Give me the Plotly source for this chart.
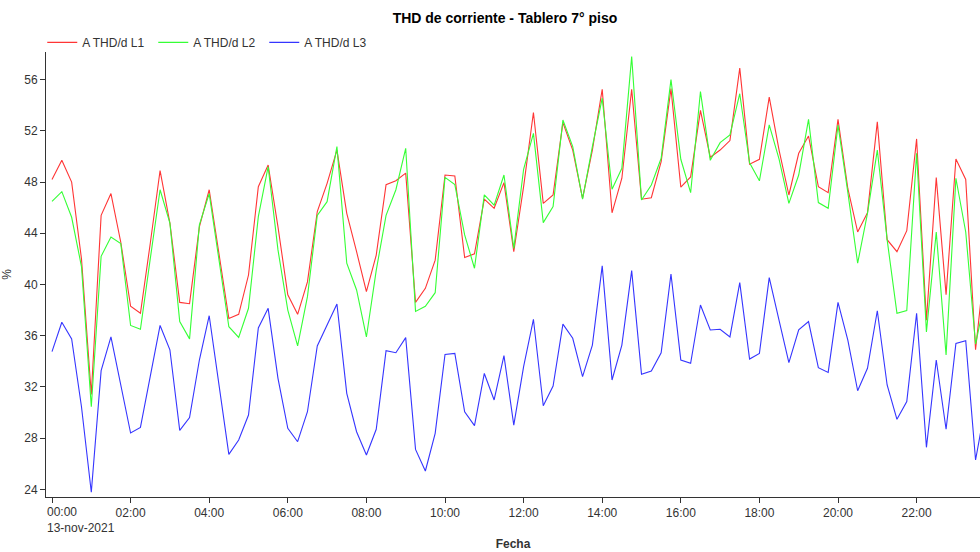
import plotly.graph_objects as go
import pandas as pd

times = pd.date_range("2021-11-13 00:00", periods=96, freq="15min")

l1 = [48.2, 49.7, 48.0, 42.0, 31.4, 45.4, 47.1, 43.3, 38.3, 37.75, 43.2, 48.9,
      44.8, 38.6, 38.5, 44.5, 47.4, 42.3, 37.35, 37.67, 40.74, 47.64, 49.33, 44.5,
      39.2, 37.67, 40.2, 45.7, 47.9, 50.5, 45.56, 42.56, 39.44, 42.3, 47.8, 48.1,
      48.7, 38.6, 39.7, 41.9, 48.55, 48.48, 42.1, 42.4, 46.66, 45.95, 47.96, 42.56,
      47.64, 53.43, 46.34, 46.99, 52.64, 50.5, 46.73, 50.5, 55.25, 45.6, 48.3, 55.25,
      46.66, 46.78, 49.6, 55.3, 47.6, 48.4, 53.6, 49.94, 50.5, 51.24, 56.9, 49.4,
      49.78, 54.63, 50.5, 46.99, 50.25, 51.6, 47.64, 47.17, 52.9, 47.5, 44.1, 45.6,
      52.7, 43.5, 42.56, 44.2, 51.37, 37.2, 48.35, 39.2, 49.8, 48.2, 34.9, 42.0]

l2 = [46.5, 47.25, 45.25, 41.4, 30.45, 42.2, 43.7, 43.2, 36.8, 36.5, 42.0, 47.4,
      44.8, 37.1, 35.75, 44.65, 47.1, 41.7, 36.7, 35.86, 38.14, 45.3, 49.2, 42.7,
      38.0, 35.2, 39.05, 45.4, 46.47, 50.77, 41.66, 39.57, 35.9, 41.1, 45.4, 47.4,
      50.64, 37.9, 38.3, 39.36, 48.37, 47.8, 43.87, 41.27, 47.0, 46.2, 48.55, 42.82,
      49.0, 51.8, 44.83, 46.08, 52.85, 50.77, 46.66, 50.77, 54.55, 47.44, 49.08, 57.8,
      46.6, 47.77, 49.86, 56.0, 49.78, 47.17, 55.07, 49.7, 51.08, 51.68, 54.9, 49.5,
      48.1, 52.46, 49.8, 46.34, 48.55, 52.9, 46.4, 45.95, 52.46, 47.2, 41.66, 45.56,
      50.5, 43.5, 37.75, 37.96, 50.25, 36.3, 44.1, 34.5, 48.3, 44.1, 35.35, 39.0]

l3 = [34.75, 37.05, 35.75, 30.45, 23.77, 33.27, 35.9, 32.15, 28.4, 28.84, 32.9, 36.8,
      34.9, 28.6, 29.6, 34.1, 37.56, 32.0, 26.73, 27.85, 29.8, 36.6, 38.14, 32.67,
      28.77, 27.72, 30.06, 35.2, 36.84, 38.48, 31.5, 28.5, 26.68, 28.69, 34.83, 34.67,
      35.85, 27.12, 25.43, 28.37, 34.54, 34.62, 30.06, 28.97, 33.05, 30.98, 34.44, 29.02,
      33.58, 37.28, 30.53, 32.07, 36.9, 35.8, 32.8, 35.27, 41.45, 32.54, 35.27, 41.08,
      32.98, 33.24, 34.67, 40.82, 34.1, 33.84, 38.4, 36.45, 36.5, 35.9, 40.15, 34.18,
      34.62, 40.54, 37.2, 33.9, 36.45, 37.1, 33.5, 33.13, 38.6, 35.66, 31.7, 33.45,
      37.95, 32.15, 29.47, 30.85, 37.75, 27.28, 34.1, 28.69, 35.4, 35.6, 26.29, 30.5]

series_names = ["A THD/d L1", "A THD/d L2", "A THD/d L3"]
series_colors = ["#ff3535", "#35ff35", "#3535ff"]

tick_hours = ["00:00", "02:00", "04:00", "06:00", "08:00", "10:00",
              "12:00", "14:00", "16:00", "18:00", "20:00", "22:00"]
tick_vals = [pd.Timestamp("2021-11-13 " + h) for h in tick_hours]
tick_text = [""] + tick_hours[1:]
date_label = "13-nov-2021"
y_ticks = [24, 28, 32, 36, 40, 44, 48, 52, 56]

fig = go.Figure()
for name, vals, col in zip(series_names, [l1, l2, l3], series_colors):
    fig.add_trace(go.Scatter(x=times, y=vals, mode="lines", name=name,
                             line=dict(color=col, width=1.1)))

font_family = "Liberation Sans, Arial, sans-serif"
fig.update_layout(
    width=980, height=552,
    margin=dict(l=46, r=0, t=52, b=55),
    paper_bgcolor="white", plot_bgcolor="white",
    font=dict(family=font_family, size=12, color="#333333"),
    title=dict(text="<b>THD de corriente - Tablero 7° piso</b>",
               x=505 / 980, xanchor="center", y=1 - 18 / 552, yanchor="middle",
               font=dict(size=14, color="#000000")),
    showlegend=True,
    legend=dict(orientation="h", x=-0.004, xanchor="left", y=0.989, yanchor="bottom",
                font=dict(size=12, color="#333333"), bgcolor="rgba(0,0,0,0)",
                itemwidth=30, entrywidth=66, traceorder="normal"),
    xaxis=dict(
        type="date",
        range=["2021-11-12 23:50:50", "2021-11-13 23:36:47"],
        tickvals=tick_vals, ticktext=tick_text,
        showgrid=False, zeroline=False,
        showline=True, linecolor="#333333", linewidth=1,
        ticks="outside", ticklen=5, tickcolor="#333333",
        tickfont=dict(size=12, color="#333333"),
        title=dict(text="<b>Fecha</b>", font=dict(size=12, color="#333333"), standoff=20),
    ),
    yaxis=dict(
        range=[23.4, 58.16],
        tickvals=y_ticks,
        showgrid=False, zeroline=False,
        showline=True, linecolor="#333333", linewidth=1,
        ticks="outside", ticklen=5, tickcolor="#333333",
        tickfont=dict(size=12, color="#333333"),
        title=dict(text="%", font=dict(size=12, color="#333333"), standoff=14),
    ),
)

fig.add_annotation(x=tick_vals[0], y=0, xref="x", yref="paper",
                   text=tick_hours[0] + "<br>" + date_label,
                   showarrow=False, xanchor="left", yanchor="top", align="left",
                   xshift=-7, yshift=-6, font=dict(size=12, color="#333333"))

fig.write_html("out.html")
